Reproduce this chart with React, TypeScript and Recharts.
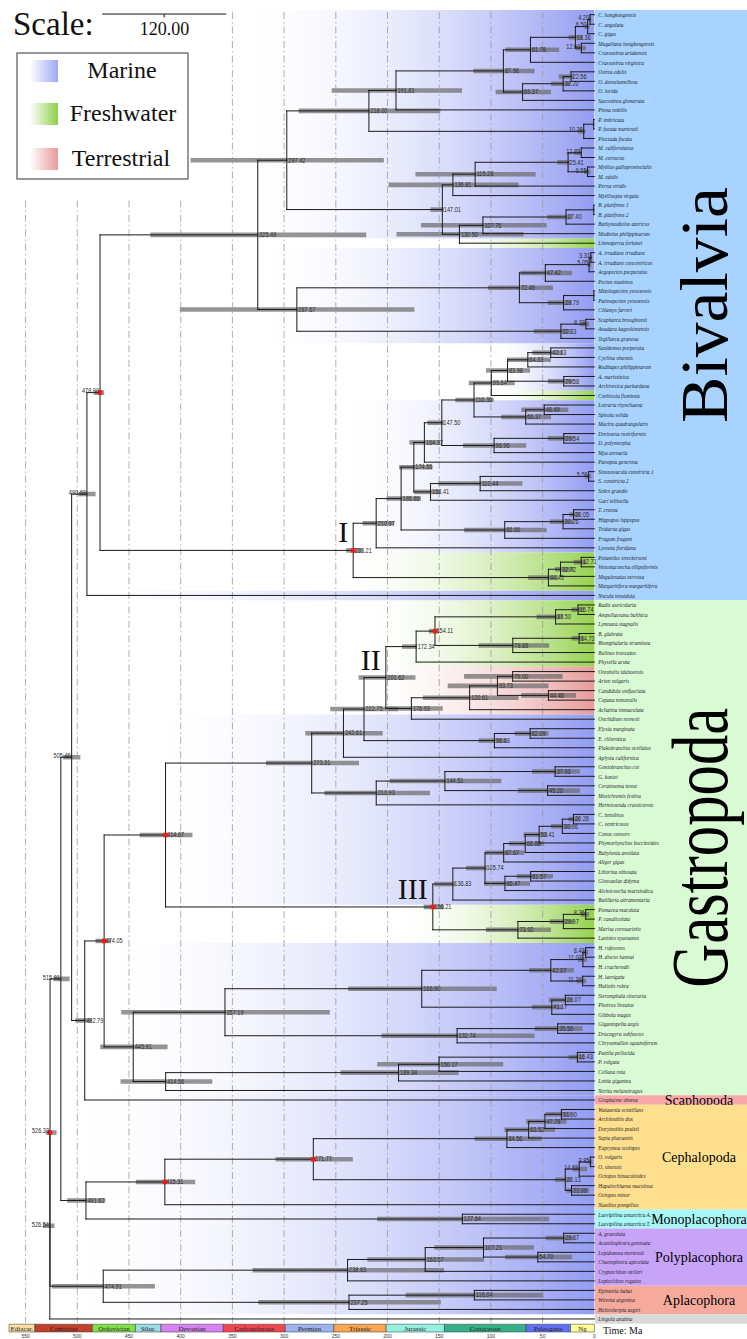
import React from "react";
import { ComposedChart, XAxis, YAxis, ReferenceArea, ReferenceLine, Scatter } from "recharts";

// tip names, top to bottom
const TIPS = [
  "C. hongkongensis", "C. angulata", "C. gigas", "Magallana hongkongensis", "Crassostrea ariakensis",
  "Crassostrea virginica", "Ostrea edulis", "O. denselamellosa", "O. lurida", "Saccostrea glomerata",
  "Pinna nobilis", "P. imbricata", "P. fucata martensii", "Pinctada fucata", "M. californianus",
  "M. coruscus", "Mytilus galloprovincialis", "M. edulis", "Perna viridis", "Mytilisepta virgata",
  "B. platifrons 1", "B. platifrons 2", "Bathymodiolus azoricus", "Modiolus philippinarum", "Limnoperna fortunei",
  "A. irradians irradians", "A. irradians concentricus", "Argopecten purpuratus", "Pecten maximus", "Mizuhopecten yessoensis",
  "Patinopecten yessoensis", "Chlamys farreri", "Scapharca broughtonii", "Anadara kagoshimensis", "Tegillarca granosa",
  "Saxidomus purpurata", "Cyclina sinensis", "Ruditapes philippinarum", "A. marissinica", "Archivesica packardana",
  "Corbicula fluminea", "Lutraria rhynchaena", "Spisula solida", "Mactra quadrangularis", "Dreissena rostriformis",
  "D. polymorpha", "Mya arenaria", "Panopea generosa", "Sinonovacula constricta 1", "S. constricta 2",
  "Solen grandis", "Gari tellinella", "T. crocea", "Hippopus hippopus", "Tridacna gigas",
  "Fragum fragum", "Lyonsia floridana", "Potamilus streckersoni", "Venustaconcha ellipsiformis", "Megalonaias nervosa",
  "Margaritifera margaritifera", "Nucula tenuidula", "Radix auricularia", "Ampullaceana balthica", "Lymnaea stagnalis",
  "B. glabrata", "Biomphalaria straminea", "Bulinus truncatus", "Physella acuta", "Oreohelix idahoensis",
  "Arion vulgaris", "Candidula unifasciata", "Cepaea nemoralis", "Achatina immaculata", "Onchidium reevesii",
  "Elysia marginata", "E. chlorotica", "Plakobranchus ocellatus", "Aplysia californica", "Goniobranchus coi",
  "G. kuniei", "Ceratosoma tenue", "Mexichromis festiva", "Hermissenda crassicornis", "C. betulinus",
  "C. ventricosus", "Conus consors", "Phymorhynchus buccinoides", "Babylonia areolata", "Aliger gigas",
  "Littorina obtusata", "Glossaulax didyma", "Alviniconcha marisindica", "Batillaria attramentaria", "Pomacea maculata",
  "P. canaliculata", "Marisa cornuarietis", "Lanistes nyassanus", "H. rufescens", "H. discus hannai",
  "H. cracherodii", "H. laevigata", "Haliotis rubra", "Steromphala cineraria", "Phorcus lineatus",
  "Gibbula magus", "Gigantopelta aegis", "Dracogyra subfuscus", "Chrysomallon squamiferum", "Patella pellucida",
  "P. vulgata", "Cellana rota", "Lottia gigantea", "Nerita melanotragus", "Graptacme eborea",
  "Watasenia scintillans", "Architeuthis dux", "Doryteuthis pealeii", "Sepia pharaonis", "Euprymna scolopes",
  "O. vulgaris", "O. sinensis", "Octopus bimaculoides", "Hapalochlaena maculosa", "Octopus minor",
  "Nautilus pompilius", "Laevipilina antarctica A.", "Laevipilina antarctica T.", "A. granulata", "Acanthopleura gemmata",
  "Lepidozona mertensii", "Chaetopleura apiculata", "Cryptochiton stelleri", "Leptochiton rugatus", "Epimenia babai",
  "Wirenia argentea", "Helicoherpia aegiri", "Lingula anatina",
];

// internal nodes, children before parents: [age label, 95% HPD low, high, children]
// numbers are tip indices (1-based), strings are node labels; "~" = label not shown
type Kid = number | string;
const NODES: [string, number, number, Kid[]][] = [
  ["4.20", 3, 6, [1, 2]],
  ["6.50", 4.5, 9.5, ["4.20", 3]],
  ["12.60", 8, 18, [4, 5]],
  ["18.36", 12, 25, ["6.50", "12.60"]],
  ["61.78", 34, 86, ["18.36", 6]],
  ["22.56", 19.7, 34.4, [7, 8]],
  ["30.20", 23.4, 41.9, ["22.56", 9]],
  ["69.37", 41.9, 95.5, ["30.20", 10]],
  ["87.98", 57.8, 117, ["61.78", "69.37"]],
  ["191.81", 128, 254, ["87.98", 11]],
  ["~0.60", 0.2, 1.5, [12, 13]],
  ["10.28", 8.6, 16, ["~0.60", 14]],
  ["218.00", 149, 286, ["191.81", "10.28"]],
  ["12.72", 12, 20, [15, 16]],
  ["6.55", 4, 10, [17, 18]],
  ["25.41", 23.4, 36, ["12.72", "6.55"]],
  ["115.28", 56.7, 173, ["25.41", 19]],
  ["136.81", 73.3, 199, ["115.28", 20]],
  ["~0.50", 0.2, 1.5, [21, 22]],
  ["27.40", 21.5, 45.6, ["~0.50", 23]],
  ["107.76", 46.3, 167.7, ["27.40", 24]],
  ["130.50", 68.5, 191.4, ["107.76", 25]],
  ["147.01", 145.5, 158.5, ["136.81", "130.50"]],
  ["297.42", 203.6, 390.5, ["218.00", "147.01"]],
  ["3.37", 2, 5, [26, 27]],
  ["5.05", 3, 7, ["3.37", 28]],
  ["47.42", 21.5, 71.5, ["5.05", 29]],
  ["~0.40", 0.2, 1.2, [30, 31]],
  ["29.79", 22, 45, ["~0.40", 32]],
  ["72.49", 40, 103, ["47.42", "29.79"]],
  ["8.23", 5, 14, [33, 34]],
  ["32.33", 22, 58.5, ["8.23", 35]],
  ["287.67", 174, 400.9, ["72.49", "32.33"]],
  ["325.49", 220.6, 429.4, ["297.42", "287.67"]],
  ["42.13", 30, 60, [36, 37]],
  ["64.33", 41.9, 84.4, ["42.13", 38]],
  ["29.58", 20, 45, [39, 40]],
  ["83.98", 62.2, 104.8, ["64.33", "29.58"]],
  ["99.64", 77, 121.4, ["83.98", 41]],
  ["48.49", 25.2, 70.7, [42, 43]],
  ["66.37", 41.9, 90, ["48.49", 44]],
  ["116.36", 97.4, 134.4, ["99.64", "66.37"]],
  ["29.54", 20, 45, [45, 46]],
  ["96.96", 65.9, 127, ["29.54", 47]],
  ["147.50", 145.5, 161.4, ["116.36", "96.96"]],
  ["164.37", 149, 178.8, ["147.50", 48]],
  ["5.56", 3, 9, [49, 50]],
  ["110.44", 69.6, 151, ["5.56", 51]],
  ["158.41", 149, 174.3, ["110.44", 52]],
  ["174.55", 156.6, 188.8, ["164.37", "158.41"]],
  ["20.05", 14, 24, [53, 54]],
  ["30.26", 20, 43, ["20.05", 55]],
  ["86.66", 46.3, 125.9, ["30.26", 56]],
  ["186.86", 167.7, 201, ["174.55", "86.66"]],
  ["210.97", 193.6, 224, ["186.86", 57]],
  ["12.71", 8, 20, [58, 59]],
  ["32.72", 20, 38, ["12.71", 60]],
  ["44.43", 35, 64, ["32.72", 61]],
  ["233.21", 224, 240, ["210.97", "44.43"]],
  ["478.00", 474, 484, ["325.49", "233.21"]],
  ["490.68", 482.3, 499, ["478.00", 62]],
  ["15.74", 10, 22, [63, 64]],
  ["37.50", 30, 56, ["15.74", 65]],
  ["14.73", 10, 22, [66, 67]],
  ["78.88", 43.7, 112, ["14.73", 68]],
  ["154.11", 150, 160, ["37.50", "78.88"]],
  ["172.34", 171.4, 186, ["154.11", 69]],
  ["79.00", 30.8, 126, [70, 71]],
  ["44.46", 17.8, 70.7, [72, 73]],
  ["93.73", 44.4, 141.8, ["79.00", "44.46"]],
  ["120.61", 73.3, 165.8, ["93.73", 74]],
  ["176.93", 146.6, 201, ["120.61", 75]],
  ["201.62", 173, 228, ["172.34", "176.93"]],
  ["62.09", 44.4, 77, [76, 77]],
  ["96.68", 85, 112, ["62.09", 78]],
  ["222.75", 190, 255.4, ["201.62", "96.68"]],
  ["242.61", 204.7, 279.5, ["222.75", 79]],
  ["37.93", 14, 60.3, [80, 81]],
  ["45.20", 14, 74, [82, 83]],
  ["144.51", 90, 198, ["37.93", "45.20"]],
  ["210.93", 159, 261, ["144.51", 84]],
  ["273.31", 227.6, 317.6, ["242.61", "210.93"]],
  ["20.26", 14, 25, [85, 86]],
  ["30.96", 22, 42, ["20.26", 87]],
  ["53.41", 45.6, 68.5, ["30.96", 88]],
  ["66.86", 48.5, 82.6, ["53.41", 89]],
  ["87.67", 67.8, 105.5, ["66.86", 90]],
  ["61.57", 40, 75, [91, 92]],
  ["86.47", 62.2, 106.6, ["61.57", 93]],
  ["105.74", 104, 124, ["87.67", "86.47"]],
  ["136.83", 134.4, 154.8, ["105.74", 94]],
  ["8.36", 5, 13, [95, 96]],
  ["29.97", 20, 43, ["8.36", 97]],
  ["73.92", 41.9, 104.8, ["29.97", 98]],
  ["156.21", 145.5, 165, ["136.83", "73.92"]],
  ["414.67", 388.6, 439.7, ["273.31", "156.21"]],
  ["8.43", 6, 12, [99, 100]],
  ["11.07", 7, 16, ["8.43", 101]],
  ["11.27", 8, 17, [102, 103]],
  ["42.07", 19.7, 63, ["11.07", "11.27"]],
  ["28.07", 22, 44, [104, 105]],
  ["41.17", 30.8, 60.3, ["28.07", 106]],
  ["166.90", 94.4, 238, ["42.07", "41.17"]],
  ["35.50", 11.5, 57.8, [107, 108]],
  ["132.74", 57.8, 205.8, ["35.50", 109]],
  ["357.19", 255.8, 457.5, ["166.90", "132.74"]],
  ["16.43", 10, 25, [110, 111]],
  ["150.17", 88.1, 210, ["16.43", 112]],
  ["189.34", 131.4, 245.4, ["150.17", 113]],
  ["414.56", 369.4, 458.2, ["189.34", 114]],
  ["445.91", 412.7, 477.8, ["357.19", "414.56"]],
  ["474.05", 467.5, 482.3, ["414.67", "445.91"]],
  ["492.79", 486, 501.9, ["474.05", 115]],
  ["505.46", 497, 513.7, ["490.68", "492.79"]],
  ["31.90", 22, 47, [116, 117]],
  ["47.78", 27, 65.9, ["31.90", 118]],
  ["63.52", 38, 87, ["47.78", 119]],
  ["84.56", 51, 115.9, ["63.52", 120]],
  ["3.85", 2, 6, [121, 122]],
  ["14.63", 7, 21, ["3.85", 123]],
  ["22.06", 5, 27, [124, 125]],
  ["28.13", 23, 38, ["14.63", "22.06"]],
  ["271.77", 233.6, 308.3, ["84.56", "28.13"]],
  ["415.31", 386, 443.4, ["271.77", 126]],
  ["127.64", 43.7, 210, [127, 128]],
  ["491.62", 473, 509.7, ["415.31", "127.64"]],
  ["515.91", 507.4, 523, ["505.46", "491.62"]],
  ["29.67", 20, 47, [129, 130]],
  ["54.70", 21.5, 86.3, [131, 132]],
  ["107.21", 58.5, 154.8, ["29.67", "54.70"]],
  ["163.57", 106.6, 219.5, ["107.21", 133]],
  ["238.63", 145.5, 330.5, ["163.57", 134]],
  ["116.04", 49.3, 182.5, [135, 136]],
  ["237.25", 148.5, 325, ["116.04", 137]],
  ["474.91", 424.9, 524.8, ["238.63", "237.25"]],
  ["526.33", 520, 530.4, ["515.91", "474.91"]],
  ["526.54", 522, 533.3, ["526.33", 138]],
];

const CALIBRATED = ["478.00", "233.21", "154.11", "414.67", "474.05", "156.21", "271.77", "415.31", "526.33"];
// labels drawn to the left of their node
const LEFT_LABELS = [
  "478.00", "490.68", "505.46", "515.91", "526.33", "526.54",
  "4.20", "6.50", "12.60", "10.28", "12.72", "6.55", "3.37", "5.05", "8.23", "5.56",
  "8.36", "8.43", "11.07", "11.27", "3.85", "14.63",
];
const CLADE_NODES = ["233.21", "201.62", "156.21"];
const CLADE_NAMES = ["I", "II", "III"];

// habitat shading: first tip, last tip, habitat, age where the shading starts
const HABITAT_BANDS: [number, number, string, number][] = [
  [1, 24, "marine", 352], [25, 25, "fresh", 149], [26, 35, "marine", 334],
  [36, 40, "marine", 101], [41, 41, "fresh", 101], [42, 57, "marine", 249],
  [58, 61, "fresh", 249], [62, 62, "marine", 538], [63, 69, "fresh", 230],
  [70, 74, "terr", 230], [75, 94, "marine", 441], [95, 98, "fresh", 199],
  [99, 114, "marine", 493], [115, 137, "marine", 526],
];

const GROUP_NAMES = ["Bivalvia", "Gastropoda", "Scaphopoda", "Cephalopoda", "Monoplacophora", "Polyplacophora", "Aplacophora", ""];
const GROUP_FIRST = [1, 63, 115, 116, 127, 129, 135, 138];
const GROUP_LAST = [62, 114, 115, 126, 128, 134, 137, 138];
const GROUP_COLORS = ["#a7d3fe", "#d9fbd3", "#f7a9a9", "#fddf8e", "#a9f7f7", "#c8a4f8", "#f5aa9c", "#d9d9d9"];

const PERIODS = ["Ediacar.", "Cambrian", "Ordovician", "Silur.", "Devonian", "Carboniferous", "Permian", "Triassic", "Jurassic", "Cretaceous", "Paleogene", "Ng"];
const PERIOD_BOUNDS = [566, 541, 485.4, 443.8, 419.2, 358.9, 298.9, 251.9, 201.3, 145, 66, 23, 0];
const PERIOD_COLORS = ["#f8dea3", "#c2412b", "#80e048", "#9cdbe8", "#d783f2", "#f2464f", "#9cb4f0", "#faa64e", "#95f2e2", "#35b08b", "#6470f2", "#ffff99"];

const AXIS_TICKS = [550, 500, 450, 400, 350, 300, 250, 200, 150, 100, 50, 0];
const GRID_MA = [550, 500, 450, 400, 350, 300, 250, 200, 150, 100, 50];

const HABITAT_FILL: Record<string, string> = { marine: "url(#gMar)", fresh: "url(#gFre)", terr: "url(#gTer)" };
const SERIF = "'Liberation Serif', 'Times New Roman', serif";
const SANS = "'Liberation Sans', Arial, sans-serif";

// ---- build tree geometry in data units (x = Ma, y = tip index) ----
const ageOf = (label: string) => parseFloat(label.replace("~", ""));
const nodeY: Record<string, number> = {};
const yOf = (k: Kid) => (typeof k === "number" ? k : nodeY[k]);
const branches: { x1: number; y1: number; x2: number; y2: number }[] = [];
NODES.forEach(([label, , , kids]) => {
  const a = ageOf(label);
  const ys = kids.map(yOf);
  nodeY[label] = (ys[0] + ys[ys.length - 1]) / 2;
  branches.push({ x1: a, y1: ys[0], x2: a, y2: ys[ys.length - 1] });
  kids.forEach((k) => {
    const childAge = typeof k === "number" ? 0 : ageOf(k);
    branches.push({ x1: a, y1: yOf(k), x2: childAge, y2: yOf(k) });
  });
});

const nodePoints = NODES.map(([label]) => ({ x: ageOf(label), y: nodeY[label], label }));
const tipPoints = TIPS.map((name, i) => ({ x: 0, y: i + 1, name }));

const renderNode = (p: any) => {
  const { cx, cy, payload } = p;
  const label: string = payload.label;
  const hidden = label.startsWith("~");
  const left = LEFT_LABELS.includes(label);
  const ci = CLADE_NODES.indexOf(label);
  return (
    <g>
      {CALIBRATED.includes(label) && <rect x={cx - 2.2} y={cy - 2.2} width={4.4} height={4.4} fill="#ff1414" />}
      {!hidden && (
        <text
          transform={`translate(${left ? cx - 1 : cx + 1.5},${left ? cy + 0.8 : cy + 2.3}) scale(0.86,1)`}
          textAnchor={left ? "end" : "start"}
          fontSize={6.5}
          fontFamily={SANS}
          fill="#2a2a2a"
        >
          {label}
        </text>
      )}
      {ci >= 0 && (
        <text x={cx - 5} y={cy - 8} textAnchor="end" fontSize={30} fontFamily={SERIF} fill="#111">
          {CLADE_NAMES[ci]}
        </text>
      )}
    </g>
  );
};

const renderTip = (p: any) => {
  const { cx, cy, payload } = p;
  return (
    <text
      transform={`translate(${cx + 4},${cy + 2.3}) scale(0.78,1)`}
      fontSize={6.8}
      fontStyle="italic"
      fontFamily={SERIF}
      fill="#1e1e2c"
    >
      {payload.name}
    </text>
  );
};

const groupLabel = (i: number) => (props: any) => {
  const vb = props.viewBox || {};
  const name = GROUP_NAMES[i];
  if (!name) return null;
  const cy = vb.y + vb.height / 2;
  if (i < 2) {
    const size = i === 0 ? 68 : 80;
    const len = i === 0 ? 236 : 280;
    return (
      <text
        transform={`translate(${vb.x + 132},${cy}) rotate(-90)`}
        textAnchor="middle"
        fontSize={size}
        fontFamily={SERIF}
        fill="#000"
        textLength={len}
        lengthAdjust="spacingAndGlyphs"
      >
        {name}
      </text>
    );
  }
  return (
    <text x={vb.x + 104} y={cy + 4.8} textAnchor="middle" fontSize={14} fontFamily={SERIF} fill="#000">
      {name}
    </text>
  );
};

export default function App() {
  return (
    <div style={{ position: "absolute", left: 0, top: 0, width: 747, height: 1339, background: "#fff" }}>
      <ComposedChart width={747} height={1339} margin={{ top: 0, right: 0, bottom: 0, left: 8 }}>
        <defs>
          <linearGradient id="gMar" x1="0" y1="0" x2="1" y2="0">
            <stop offset="0" stopColor="#ffffff" stopOpacity={0} />
            <stop offset="1" stopColor="#939cf2" stopOpacity={1} />
          </linearGradient>
          <linearGradient id="gFre" x1="0" y1="0" x2="1" y2="0">
            <stop offset="0" stopColor="#ffffff" stopOpacity={0} />
            <stop offset="1" stopColor="#95d24e" stopOpacity={1} />
          </linearGradient>
          <linearGradient id="gTer" x1="0" y1="0" x2="1" y2="0">
            <stop offset="0" stopColor="#ffffff" stopOpacity={0} />
            <stop offset="1" stopColor="#e89b9b" stopOpacity={1} />
          </linearGradient>
        </defs>
        <XAxis
          type="number"
          dataKey="x"
          domain={[-147.6, 567]}
          reversed
          allowDataOverflow
          ticks={AXIS_TICKS}
          interval={0}
          height={7}
          axisLine={false}
          tickLine={false}
          tickSize={2}
          tickMargin={0}
          tick={{ fontSize: 5, fill: "#333", fontFamily: SANS }}
        />
        <YAxis type="number" dataKey="y" domain={[-0.545, 139.37]} reversed hide width={0} allowDataOverflow />

        {HABITAT_BANDS.map(([a, b, h, start], i) => (
          <ReferenceArea
            key={"hab" + i}
            x1={start}
            x2={0}
            y1={a - 0.5}
            y2={b + 0.5}
            fill={HABITAT_FILL[h]}
            fillOpacity={1}
            stroke="none"
            ifOverflow="visible"
          />
        ))}

        {GRID_MA.map((m) => (
          <ReferenceLine
            key={"g" + m}
            segment={[{ x: m, y: m >= 400 ? 20.5 : 0.72 }, { x: m, y: 138.4 }]}
            stroke="#9a9a9a"
            strokeWidth={0.8}
            strokeDasharray="7 3 1.5 3"
            ifOverflow="visible"
          />
        ))}

        {GROUP_NAMES.map((_, i) => (
          <ReferenceArea
            key={"grp" + i}
            x1={-0.6}
            x2={-147.6}
            y1={GROUP_FIRST[i] - 0.5}
            y2={GROUP_LAST[i] + 0.5}
            fill={GROUP_COLORS[i]}
            fillOpacity={1}
            stroke="none"
            ifOverflow="visible"
            label={groupLabel(i)}
          />
        ))}

        {PERIODS.map((p, i) => (
          <ReferenceArea
            key={"per" + p}
            x1={PERIOD_BOUNDS[i]}
            x2={PERIOD_BOUNDS[i + 1]}
            y1={138.55}
            y2={139.37}
            fill={PERIOD_COLORS[i]}
            fillOpacity={1}
            stroke="#333"
            strokeWidth={0.5}
            ifOverflow="visible"
            label={{ value: p, position: "center", fontSize: 7, fill: "#222", fontFamily: SERIF }}
          />
        ))}

        {NODES.map(([label, lo, hi]) => (
          <ReferenceArea
            key={"hpd" + label}
            x1={hi}
            x2={lo}
            y1={nodeY[label] - 0.24}
            y2={nodeY[label] + 0.24}
            fill="#6c6c6c"
            fillOpacity={0.72}
            stroke="none"
            ifOverflow="visible"
          />
        ))}

        {branches.map((b, i) => (
          <ReferenceLine
            key={"br" + i}
            segment={[{ x: b.x1, y: b.y1 }, { x: b.x2, y: b.y2 }]}
            stroke="#1a1a1a"
            strokeWidth={1}
            strokeLinecap="square"
            ifOverflow="visible"
          />
        ))}

        {/* scale bar: 120 Ma */}
        <ReferenceLine segment={[{ x: 476, y: 0.93 }, { x: 356, y: 0.93 }]} stroke="#111" strokeWidth={1} ifOverflow="visible" />
        <ReferenceLine segment={[{ x: 416, y: 0.93 }, { x: 416, y: 1.28 }]} stroke="#111" strokeWidth={1} ifOverflow="visible" />

        <Scatter data={tipPoints} isAnimationActive={false} shape={renderTip} />
        <Scatter data={nodePoints} isAnimationActive={false} shape={renderNode} />
      </ComposedChart>

      <svg width={747} height={1339} style={{ position: "absolute", left: 0, top: 0, pointerEvents: "none" }}>
        <defs>
          <linearGradient id="lgMar" x1="0" y1="0" x2="1" y2="0">
            <stop offset="0" stopColor="#ffffff" />
            <stop offset="1" stopColor="#9fa7f6" />
          </linearGradient>
          <linearGradient id="lgFre" x1="0" y1="0" x2="1" y2="0">
            <stop offset="0" stopColor="#ffffff" />
            <stop offset="1" stopColor="#8fd04a" />
          </linearGradient>
          <linearGradient id="lgTer" x1="0" y1="0" x2="1" y2="0">
            <stop offset="0" stopColor="#ffffff" />
            <stop offset="1" stopColor="#e89a9a" />
          </linearGradient>
        </defs>
        <text x={13} y={35} fontSize={33} fontFamily={SERIF} fill="#111">Scale:</text>
        <text x={164.6} y={35} fontSize={18} fontFamily={SERIF} fill="#111" textAnchor="middle">120.00</text>
        <rect x={17} y={53} width={171} height={126} fill="#fff" stroke="#555" strokeWidth={1.2} />
        <rect x={30} y={60} width={28} height={22} fill="url(#lgMar)" />
        <rect x={30} y={103} width={28} height={22} fill="url(#lgFre)" />
        <rect x={30} y={148} width={28} height={22} fill="url(#lgTer)" />
        <text x={122} y={78} fontSize={24} fontFamily={SERIF} fill="#111" textAnchor="middle">Marine</text>
        <text x={123} y={121} fontSize={24} fontFamily={SERIF} fill="#111" textAnchor="middle">Freshwater</text>
        <text x={121} y={166} fontSize={24} fontFamily={SERIF} fill="#111" textAnchor="middle">Terrestrial</text>
        <text x={603} y={1334} fontSize={10} fontFamily={SERIF} fill="#111">Time: Ma</text>
      </svg>
    </div>
  );
}
